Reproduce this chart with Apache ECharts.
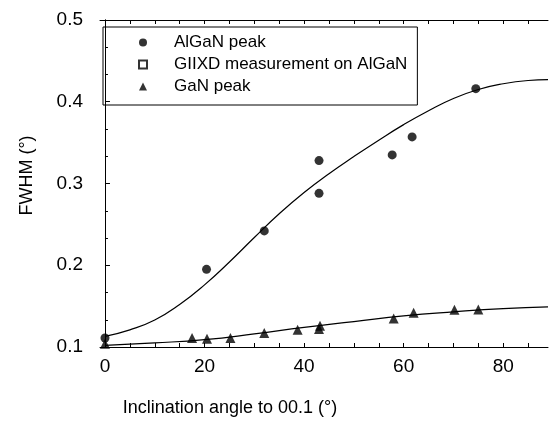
<!DOCTYPE html>
<html>
<head>
<meta charset="utf-8">
<script src="https://cdn.jsdelivr.net/npm/echarts@6/dist/echarts.min.js"></script>
<style>
  html, body { margin: 0; padding: 0; background: #fff; }
  #chart { width: 549px; height: 422px; }
</style>
</head>
<body>
<div id="chart"></div>
<script>
// measured points
const alganX = [0, 20.4, 32, 43, 43, 57.7, 61.7, 74.5];
const alganY = [0.111, 0.195, 0.242, 0.328, 0.288, 0.335, 0.357, 0.416];
const ganX = [0, 17.5, 20.5, 25.2, 32, 38.7, 43, 43.2, 58, 62, 70.2, 75];
const ganY = [0.104, 0.111, 0.110, 0.111, 0.117, 0.121, 0.122, 0.126, 0.135, 0.142, 0.1455, 0.146];
const giixdX = [];
const giixdY = [];

// fitted curves
const alganFitX = [0, 5, 10, 15, 20, 25, 30, 35, 40, 45, 50, 55, 60, 65, 70, 75, 80, 85, 89];
const alganFitY = [0.113, 0.121, 0.133, 0.152, 0.176, 0.204, 0.234, 0.263, 0.289, 0.312, 0.333, 0.353, 0.372, 0.389, 0.404, 0.415, 0.422, 0.426, 0.427];
const ganFitX = [0, 10, 20, 30, 40, 50, 60, 70, 80, 89];
const ganFitY = [0.102, 0.105, 0.109, 0.116, 0.124, 0.131, 0.138, 0.143, 0.147, 0.149];

// axis ticks
const xLabels = [0, 20, 40, 60, 80];
const xTicks = [0, 5, 10, 15, 20, 25, 30, 35, 40, 45, 50, 55, 60, 65, 70, 75, 80, 85];

const zip = (xs, ys) => xs.map((x, i) => [x, ys[i]]);
const font = 'Liberation Sans, Arial, Helvetica, sans-serif';

const chart = echarts.init(document.getElementById('chart'));

const option = {
  animation: false,
  backgroundColor: '#fff',
  textStyle: { fontFamily: font, color: '#000' },
  grid: { left: 100, right: 1, top: 20, bottom: 74 },
  legend: {
    left: 103,
    top: 27,
    orient: 'vertical',
    data: ['AlGaN peak', 'GIIXD measurement on AlGaN', 'GaN peak'],
    itemWidth: 8,
    itemHeight: 8,
    itemGap: 5,
    padding: [7, 10, 10, 35],
    borderColor: '#000',
    borderWidth: 1,
    textStyle: { fontSize: 17, color: '#000', fontFamily: font, padding: [0, 0, 0, 22], lineHeight: 16 }
  },
  xAxis: [
    {
      type: 'value',
      position: 'bottom',
      min: -1,
      max: 89,
      name: 'Inclination angle to 00.1 (°)',
      nameLocation: 'middle',
      nameGap: 52,
      nameTextStyle: { fontSize: 18, color: '#000', padding: [0, 188, 0, 0] },
      axisLine: { lineStyle: { color: '#000', width: 1 } },
      axisTick: { inside: true, length: 4, customValues: xTicks, lineStyle: { color: '#000' } },
      axisLabel: { customValues: xLabels, fontSize: 19, color: '#000', margin: 10 },
      splitLine: { show: false }
    },
    {
      type: 'value',
      position: 'top',
      min: -1,
      max: 89,
      axisLine: { show: true, lineStyle: { color: '#000', width: 1 } },
      axisTick: { inside: true, length: 4, customValues: xTicks, lineStyle: { color: '#000' } },
      axisLabel: { show: false },
      splitLine: { show: false }
    }
  ],
  yAxis: [
    {
      type: 'value',
      position: 'left',
      min: 0.1,
      max: 0.5,
      interval: 0.1,
      name: 'FWHM (°)',
      nameLocation: 'middle',
      nameGap: 64,
      nameTextStyle: { fontSize: 18, color: '#000', padding: [0, 0, 0, 16] },
      axisLine: { show: true, lineStyle: { color: '#000', width: 1 } },
      axisTick: { inside: true, length: 5, lineStyle: { color: '#000' } },
      minorTick: { show: true, splitNumber: 3, length: 3, lineStyle: { color: '#000' } },
      axisLabel: { fontSize: 19, color: '#000', margin: 17, formatter: v => v.toFixed(1) },
      splitLine: { show: false }
    },
    {
      type: 'value',
      position: 'right',
      min: 0.1,
      max: 0.5,
      interval: 0.1,
      axisLine: { show: true, lineStyle: { color: '#000', width: 1 } },
      axisTick: { show: false },
      axisLabel: { show: false },
      splitLine: { show: false }
    }
  ],
  series: [
    {
      name: 'AlGaN fit',
      type: 'line',
      data: zip(alganFitX, alganFitY),
      smooth: true,
      showSymbol: false,
      lineStyle: { color: '#000', width: 1.2 },
      z: 1
    },
    {
      name: 'GaN fit',
      type: 'line',
      data: zip(ganFitX, ganFitY),
      smooth: true,
      showSymbol: false,
      lineStyle: { color: '#000', width: 1.2 },
      z: 1
    },
    {
      name: 'AlGaN peak',
      type: 'scatter',
      symbol: 'circle',
      symbolSize: 9,
      data: zip(alganX, alganY),
      itemStyle: { color: '#000' },
      z: 3
    },
    {
      name: 'GIIXD measurement on AlGaN',
      type: 'scatter',
      symbol: 'rect',
      symbolSize: 7,
      data: zip(giixdX, giixdY),
      itemStyle: { color: '#fff', borderColor: '#000', borderWidth: 1.2 },
      z: 3
    },
    {
      name: 'GaN peak',
      type: 'scatter',
      symbol: 'triangle',
      symbolSize: 10,
      data: zip(ganX, ganY),
      itemStyle: { color: '#000' },
      z: 3
    }
  ]
};

chart.setOption(option);
</script>
</body>
</html>
